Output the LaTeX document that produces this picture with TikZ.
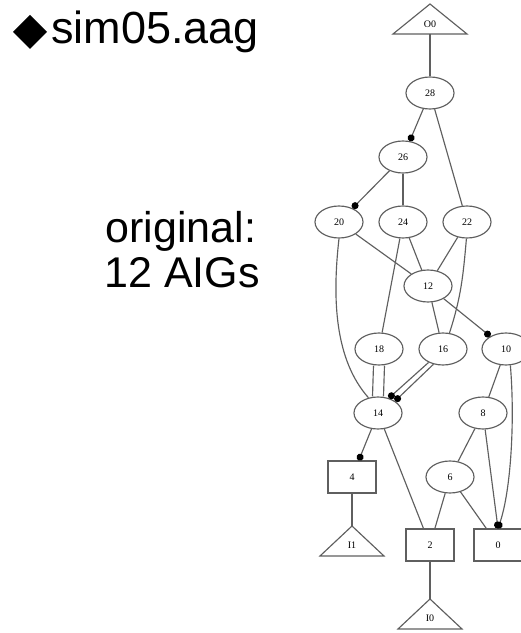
\documentclass[tikz,border=0pt]{standalone}
\usepackage{fontspec}
\setmainfont{Liberation Serif}
\newfontfamily\arialf{Liberation Sans}
\usetikzlibrary{shapes.geometric,arrows.meta}
\definecolor{ln}{RGB}{95,95,95}
\begin{document}
\begin{tikzpicture}[x=1pt,y=1pt,
  edge/.style={draw=ln,line width=1.15pt},
  inv/.style={edge,-{Circle[length=7pt,width=7pt,black]}},
  andn/.style={ellipse,draw=ln,line width=1.15pt,minimum width=48pt,minimum height=32pt,inner sep=0pt,font=\fontsize{10}{11}\selectfont},
  latch/.style={rectangle,draw=ln,line width=1.15pt,minimum width=48pt,minimum height=32pt,inner sep=0pt,font=\fontsize{10}{11}\selectfont},
  lbl/.style={inner sep=0pt,font=\fontsize{10}{11}\selectfont},
  big/.style={inner sep=0pt,font=\arialf\fontsize{43}{45}\selectfont}]
\useasboundingbox (0,0) rectangle (521,633);
% left texts
\fill (13,601) -- (30,618) -- (47,601) -- (30,584) -- cycle;
\node[big,anchor=base west,font=\arialf\fontsize{45}{50}\selectfont] (title) at (51,589) {sim05.aag};
\node[big,anchor=base] (orig) at (181,390) {original:};
\node[big,anchor=base] (cnt) at (182,345) {12 AIGs};
% triangles
\draw[edge,line join=miter] (393,599) -- (430,629) -- (467,599) -- cycle;
\node[lbl] (O0) at (430,609) {O0};
\coordinate (O0b) at (430,599);
\draw[edge,line join=miter] (320,77) -- (352,107) -- (384,77) -- cycle;
\node[lbl] (I1) at (352,88) {I1};
\coordinate (I1a) at (352,107);
\draw[edge,line join=miter] (398,4) -- (430,34) -- (462,4) -- cycle;
\node[lbl] (I0) at (430,15) {I0};
\coordinate (I0a) at (430,34);
% nodes
\node[andn] (28) at (430,540) {28};
\node[andn] (26) at (403,476) {26};
\node[andn] (20) at (339,411) {20};
\node[andn] (24) at (403,411) {24};
\node[andn] (22) at (467,411) {22};
\node[andn] (12) at (428,347) {12};
\node[andn] (18) at (379,284) {18};
\node[andn] (16) at (443,284) {16};
\node[andn] (10) at (506,284) {10};
\node[andn] (14) at (378,220) {14};
\node[andn] (8) at (483,220) {8};
\node[andn] (6) at (450,156) {6};
\node[latch] (4) at (352,156) {4};
\node[latch] (2) at (430,88) {2};
\node[latch] (0) at (498,88) {0};
% edges
\draw[edge] (O0b) -- (28);
\draw[inv] (28) -- (26);
\draw[edge] (28) -- (22);
\draw[inv] (26) -- (20);
\draw[edge] (26) -- (24);
\draw[edge] (20) -- (12);
\draw[edge] (24) -- (12);
\draw[edge] (22) -- (12);
\draw[edge] (24) -- (18);
\draw[edge] (22.-92) to[out=-95,in=72] (16.68);
\draw[edge] (12) -- (16);
\draw[inv] (12) -- (10);
\draw[edge] (20.south) .. controls (332,333) and (335,273) .. (14.122);
\draw[edge] ([xshift=-5.5pt]18.south) -- ([xshift=-5.5pt]14.north);
\draw[edge] ([xshift=5.5pt]18.south) -- ([xshift=5.5pt]14.north);
\draw[inv] (16.223) -- (14.54);
\draw[inv] (16.238) -- (14.35);
\draw[edge] (10) -- (8);
\draw[inv] (10.-75) .. controls (515,213) and (511,143) .. (0.north);
\draw[edge] (8) -- (6);
\draw[inv] (8) -- (0.north);
\draw[inv] (14) -- (4);
\draw[edge] (14) -- (2);
\draw[edge] (6) -- (2);
\draw[edge] (6) -- (0);
\draw[edge] (4) -- (I1a);
\draw[edge] (2) -- (I0a);
\end{tikzpicture}
\end{document}
